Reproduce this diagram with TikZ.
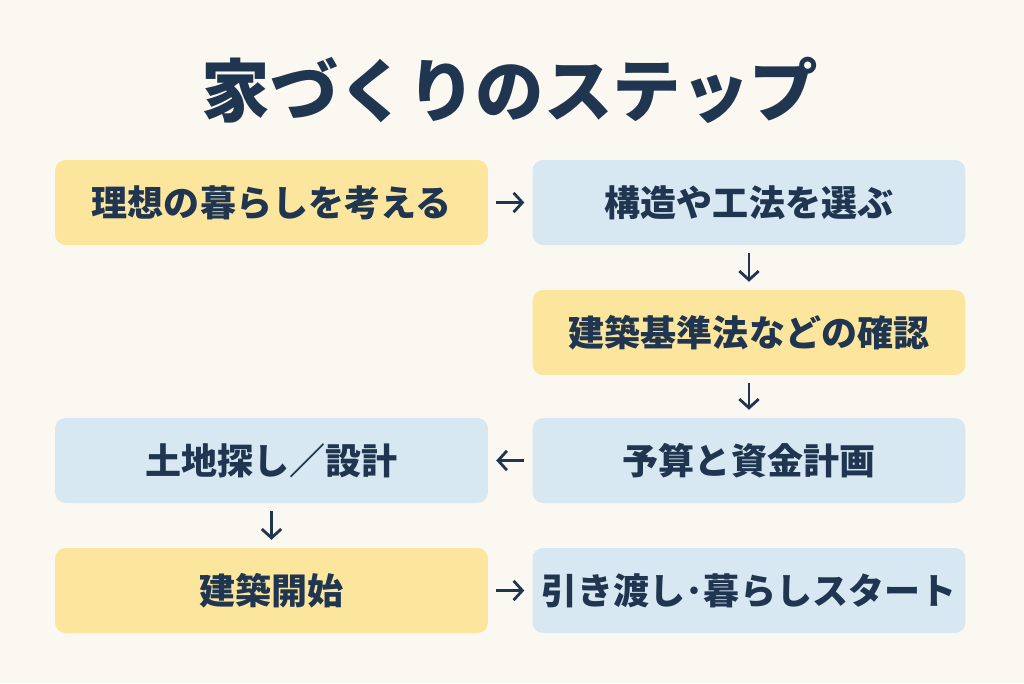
\documentclass[tikz,border=0pt]{standalone}
\usepackage{fontspec}
\setmainfont{Noto Sans CJK JP}
\usetikzlibrary{arrows.meta}
\definecolor{bg}{HTML}{FBF8F1}
\definecolor{yel}{HTML}{FCE59C}
\definecolor{blu}{HTML}{D7E8F2}
\definecolor{ink}{HTML}{1F3550}
\begin{document}
\begin{tikzpicture}[x=0.02cm,y=-0.02cm,
  box/.style={rounded corners=6pt,minimum width=8.66cm,minimum height=1.7cm,inner sep=0pt,text=ink,font=\fontsize{20.5}{24}\selectfont\bfseries},
  ybox/.style={box,fill=yel},
  bbox/.style={box,fill=blu},
  arr/.style={-{Straight Barb[length=5pt,width=11pt]},line width=1.6pt,draw=ink,shorten >=4.5pt,shorten <=4.5pt}]
\fill[bg] (0,0) rectangle (1024,683);
\useasboundingbox (0,0) rectangle (1024,683);
\node[text=ink,font=\fontsize{39}{44}\selectfont\bfseries] (t) at (510,90) {家づくりのステップ};
\node[ybox] (a) at (271.5,202.5) {理想の暮らしを考える};
\node[bbox] (b) at (749,202.5) {構造や工法を選ぶ};
\node[ybox] (c) at (749,332.5) {建築基準法などの確認};
\node[bbox] (d) at (749,460.5) {予算と資金計画};
\node[bbox] (e) at (271.5,460.5) {土地探し／設計};
\node[ybox] (f) at (271.5,590.5) {建築開始};
\node[bbox] (g) at (749,590.5) {引き渡し･暮らしスタート};
\draw[arr] (a) -- (b);
\draw[arr] (b) -- (c);
\draw[arr] (c) -- (d);
\draw[arr] (d) -- (e);
\draw[arr] (e) -- (f);
\draw[arr] (f) -- (g);
\end{tikzpicture}
\end{document}
